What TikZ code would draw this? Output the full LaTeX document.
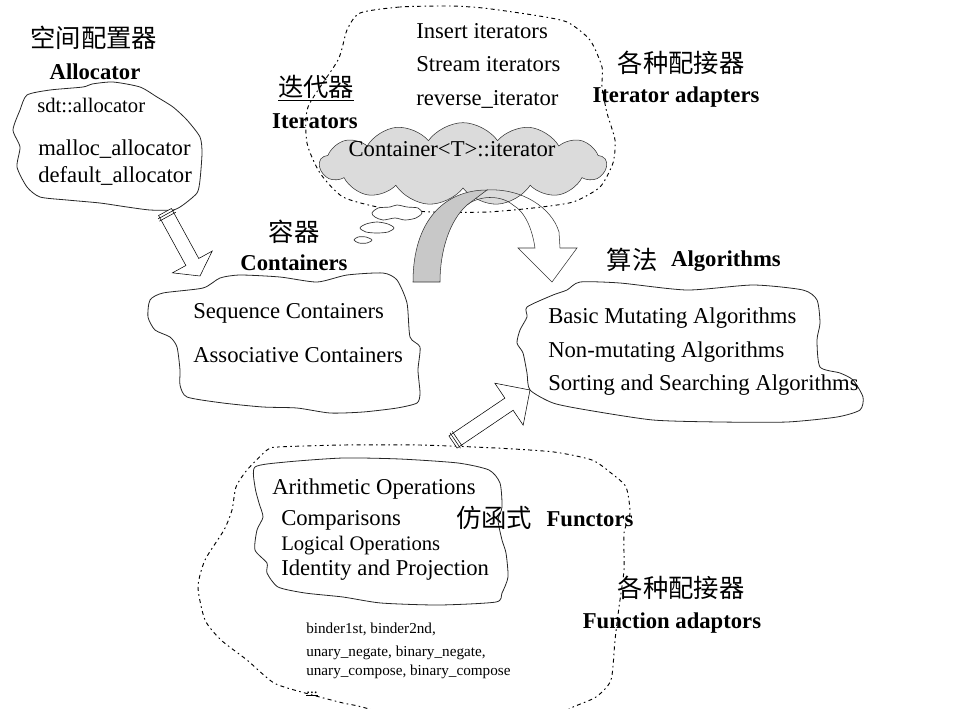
\documentclass[tikz,border=0pt]{standalone}
\usepackage{fontspec}
\setmainfont{Liberation Serif}
\newfontfamily\cjk{Noto Sans CJK SC}
\usetikzlibrary{shapes.symbols,calc}

% hollow block arrow from #1 (tail) to #2 (tip), head length #3, head half width #4
\newcommand{\hollowarrow}[4]{%
  \coordinate (hb) at ($(#2)!#3!(#1)$);
  \draw [fill=white] ($(#1)!5.5pt!90:(#2)$) -- ($(hb)!5.5pt!-90:(#1)$) -- ($(hb)!#4!-90:(#1)$) -- (#2)
    -- ($(hb)!#4!90:(#1)$) -- ($(hb)!5.5pt!90:(#1)$) -- ($(#1)!5.5pt!-90:(#2)$) -- cycle;
  \foreach \d in {2pt,4pt} {
    \coordinate (ts) at ($(#1)!\d!(#2)$);
    \draw ($(ts)!7pt!90:(#2)$) -- ($(ts)!7pt!-90:(#2)$);
  }
}

\begin{document}
\begin{tikzpicture}[x=0.75pt, y=-0.75pt,
	blob/.style={draw=black!85, line width=0.6pt},
	dotblob/.style={draw, line width=0.7pt, dash pattern=on 1.2pt off 2.5pt on 3pt off 2.5pt},
	puff/.style={draw=black!80, fill=white, line width=0.5pt},
	item/.style={anchor=base west, inner sep=0pt, font=\fontsize{17}{20}\selectfont},
	smalltext/.style={anchor=base west, inner sep=0pt, font=\fontsize{11.4}{13}\selectfont},
	headline/.style={inner sep=0pt, font=\fontsize{17}{20}\selectfont\bfseries},
	zh/.style={inner sep=0pt, font=\fontsize{19}{22}\selectfont\cjk}]
	\useasboundingbox (0,0) rectangle (957,708);

	% allocator
	\draw [blob] plot [smooth cycle, tension=0.4] coordinates {(27,95) (50,90) (83,87) (92,84) (113,82) (140,87) (157,97) (173,107) (187,120) (200,137) (202,153) (200,180) (197,193) (183,205) (173,210) (150,210) (127,207) (100,203) (67,200) (40,197) (27,187) (17,167) (20,147) (13,130) (20,110)};
	\node [zh] (allocz) at (94,38) {空间配置器};
	\node [headline] (alloc) at (95,72) {Allocator};
	\node [item, font=\fontsize{15.5}{18}\selectfont] (a1) at (37,112) {sdt::allocator};
	\node [item] (a2) at (38,155) {malloc\_allocator};
	\node [item] (a3) at (38,182) {default\_allocator};

	% iterators
	\draw [dotblob] plot [smooth cycle, tension=0.4] coordinates {(360,13) (400,7) (450,6) (483,8) (533,15) (567,22) (590,40) (602,67) (602,87) (607,113) (615,140) (613,163) (600,187) (573,202) (533,208) (487,212) (433,212) (383,208) (343,197) (320,173) (307,143) (308,107) (338,60) (347,30)};
	\node [item] (i1) at (416,38) {Insert iterators};
	\node [item] (i2) at (416,71) {Stream iterators};
	\node [item] (i3) at (416,105) {reverse\_iterator};
	\node [zh] (iterz) at (316,88) {\underline{迭代器}};
	\node [headline] (iter) at (315,121) {Iterators};
	\node [zh] (adaptz) at (681,63) {各种配接器};
	\node [headline] (adapt) at (676,97) {Iterator adapters};

	\node [cloud, cloud puffs=13, cloud puff arc=110, cloud ignores aspect, draw=black!80, fill=gray!28,
		minimum width=215pt, minimum height=62pt, inner sep=0pt] (itercloud) at (463,164) {};
	\node [inner sep=0pt, font=\fontsize{17}{20}\selectfont] (itertext) at (452,149) {Container<T>::iterator};
	% little thought puffs
	\draw [puff] plot [smooth cycle, tension=0.5] coordinates {(372,213) (378,208) (390,207) (397,205) (407,207) (418,208) (422,213) (416,218) (405,220) (395,218) (383,220) (375,217)};
	\draw [puff] plot [smooth cycle, tension=0.5] coordinates {(360,228) (366,224) (377,222) (388,224) (394,228) (388,232) (377,233) (366,232)};
	\draw [puff] plot [smooth cycle, tension=0.5] coordinates {(354,240) (358,237) (366,237) (372,240) (367,243) (359,243)};

	% curved arrow from the iterator cloud to the algorithms
	\draw [black!80] (487,190) .. controls (522,188) and (552,208) .. (559,232) -- (560,248) -- (577,248)
		-- (552,282) -- (518,248) -- (535,248) .. controls (532,228) and (525,212) .. (513,205)
		.. controls (500,194) and (478,196) .. (467,205);
	\draw [black!80, fill=gray!43] (413,282) .. controls (413,220) and (445,190) .. (487,190)
		-- (467,205) .. controls (450,220) and (440,250) .. (440,282) -- cycle;

	% containers
	\draw [blob] plot [smooth cycle, tension=0.4] coordinates {(150,300) (163,293) (203,288) (220,278) (240,275) (280,277) (317,282) (347,275) (383,273) (397,280) (407,303) (410,337) (420,347) (418,370) (420,393) (417,403) (397,408) (363,412) (330,413) (297,408) (263,407) (223,403) (187,397) (180,385) (180,370) (177,347) (170,337) (155,330) (148,317)};
	\node [zh] (contz) at (294,232) {容器};
	\node [headline] (cont) at (294,263) {Containers};
	\node [item] (c1) at (193,318) {Sequence Containers};
	\node [item] (c2) at (193,362) {Associative Containers};

	% algorithms
	\draw [blob] plot [smooth cycle, tension=0.4] coordinates {(553,295) (567,290) (580,282) (620,283) (687,290) (753,285) (803,290) (817,300) (820,323) (817,340) (820,367) (840,373) (853,380) (863,397) (860,410) (837,417) (787,422) (720,422) (653,420) (587,410) (553,403) (530,390) (527,373) (523,353) (517,343) (520,330) (527,317) (527,307)};
	\node [zh] (algoz) at (632,260) {算法};
	\node [headline] (algo) at (726,261) {Algorithms};
	\node [item] (g1) at (548,323) {Basic Mutating Algorithms};
	\node [item] (g2) at (548,357) {Non-mutating Algorithms};
	\node [item] (g3) at (548,390) {Sorting and Searching Algorithms};

	% functors and function adaptors
	\draw [dotblob] plot [smooth cycle, tension=0.4] coordinates {(267,450) (278,447) (343,445) (420,445) (496,448) (554,452) (592,460) (611,473) (626,487) (630,513) (624,533) (624,570) (619,607) (615,640) (611,680) (596,697) (573,707) (540,722) (450,730) (362,707) (343,703) (305,693) (274,683) (247,660) (221,640) (205,620) (198,587) (205,560) (224,530) (232,510) (236,487) (247,470)};
	\draw [blob] plot [smooth cycle, tension=0.4] coordinates {(255,467) (286,462) (343,458) (400,459) (458,463) (489,470) (500,483) (502,507) (498,520) (502,540) (506,553) (508,577) (502,593) (496,602) (439,605) (381,603) (343,597) (305,593) (278,587) (267,573) (267,563) (255,550) (257,530) (263,517) (259,503) (255,487)};
	\node [item] (f1) at (272,494) {Arithmetic Operations};
	\node [item] (f2) at (281,525) {Comparisons};
	\node [item, font=\fontsize{15.5}{18}\selectfont] (f3) at (281,550) {Logical Operations};
	\node [item] (f4) at (281,575) {Identity and Projection};
	\node [zh] (functz) at (494,518) {仿函式};
	\node [headline] (funct) at (590,519) {Functors};
	\node [zh] (fadaptz) at (681,588) {各种配接器};
	\node [headline] (fadapt) at (672,623) {Function adaptors};
	\node [smalltext] (b1) at (306,633) {binder1st, binder2nd,};
	\node [smalltext] (b2) at (306,656) {unary\_negate, binary\_negate,};
	\node [smalltext] (b3) at (306,675) {unary\_compose, binary\_compose};
	\node [smalltext] (b4) at (306,693) {\underline{...}};

	% block arrows
	\coordinate (allocout) at (165,212);
	\coordinate (contin) at (200,276);
	\coordinate (functout) at (453,442);
	\coordinate (algoin) at (530,390);
	\hollowarrow{allocout}{contin}{12pt}{17pt}
	\hollowarrow{functout}{algoin}{19pt}{19pt}
\end{tikzpicture}
\end{document}
